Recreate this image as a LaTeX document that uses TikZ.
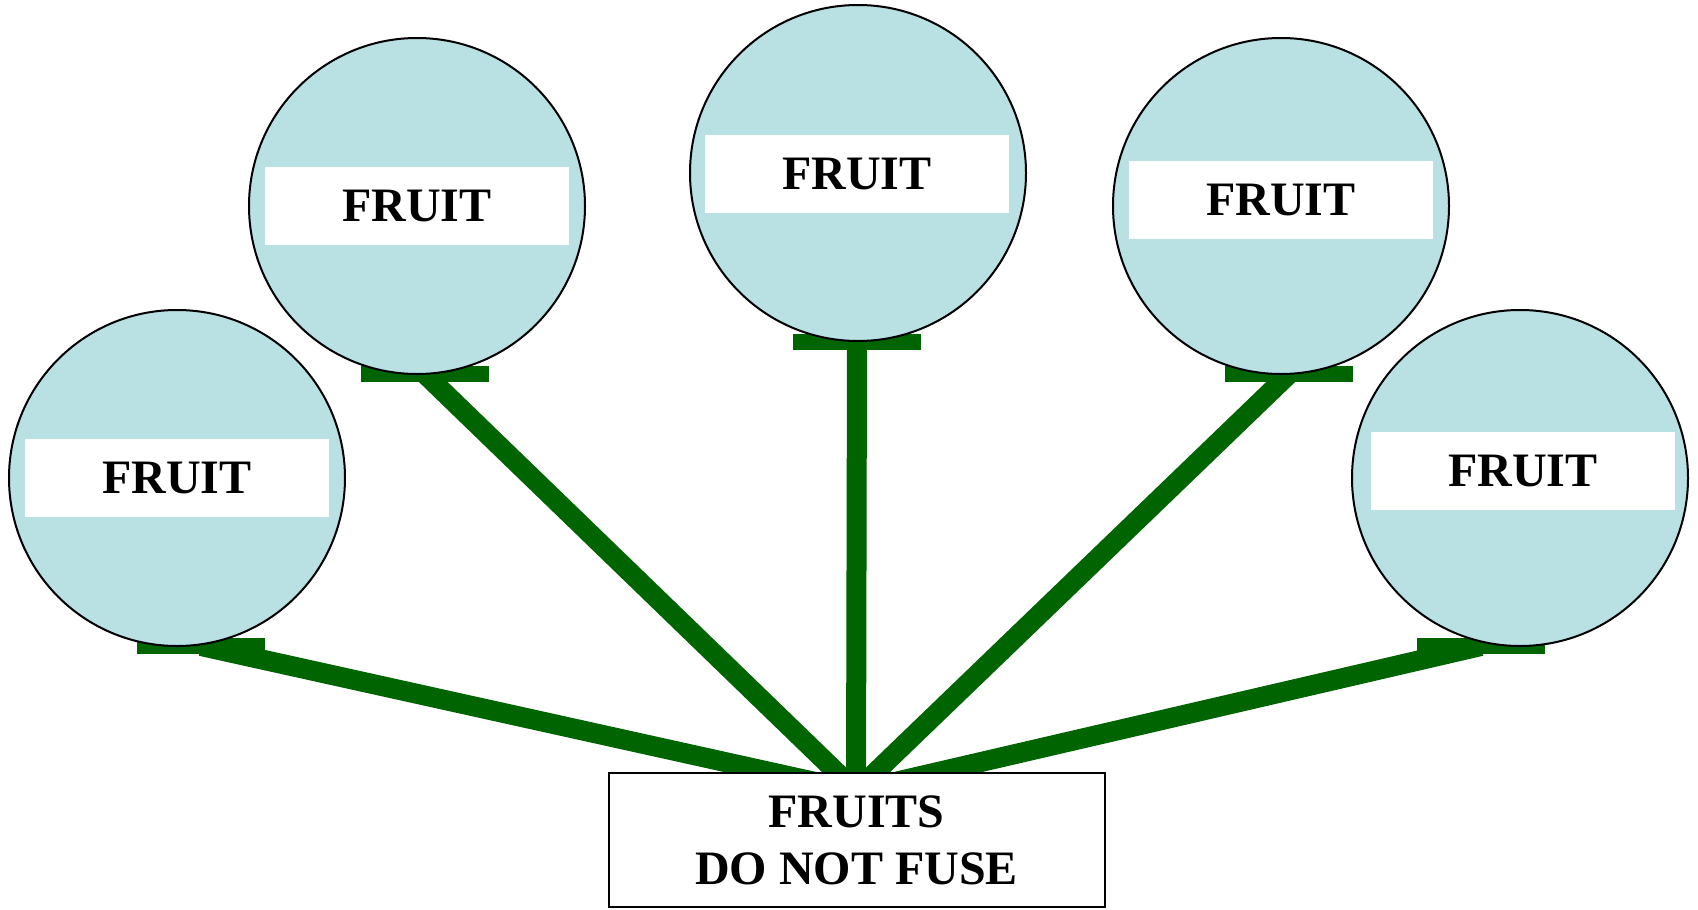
\documentclass[tikz,border=0pt]{standalone}
\usepackage{fontspec}
\setmainfont{Liberation Serif}
\usepackage{tikz}
\usetikzlibrary{backgrounds}
\definecolor{Leaf}{HTML}{006400}
\definecolor{Skin}{HTML}{B9E0E3}
\tikzset{
  fruit/.style={circle,draw=black,line width=1pt,fill=Skin,minimum size=168pt,inner sep=0pt},
  tag/.style={rectangle,fill=white,minimum width=152pt,minimum height=39pt,inner sep=0pt,font=\fontsize{24}{28.5}\selectfont\bfseries},
  bar/.style={rectangle,fill=Leaf,minimum width=64pt,minimum height=8pt,inner sep=0pt},
  stalk/.style={draw=Leaf,line width=10pt},
  base/.style={rectangle,draw=black,line width=1pt,fill=white,minimum width=248pt,minimum height=67pt,inner sep=0pt,align=center,font=\fontsize{24}{28.5}\selectfont\bfseries}
}

\begin{document}
\begin{tikzpicture}[x=0.5pt,y=-0.5pt]
  \useasboundingbox (0,0) rectangle (1698,910);
  \node[bar] (b1) at (201,646) {};
  \node[bar] (b2) at (425,374) {};
  \node[bar] (b3) at (857,342) {};
  \node[bar] (b4) at (1289,374) {};
  \node[bar] (b5) at (1481,646) {};
  \node[fruit] (c1) at (177,478) {};
  \node[fruit] (c2) at (417,206) {};
  \node[fruit] (c3) at (858,173) {};
  \node[fruit] (c4) at (1281,206) {};
  \node[fruit] (c5) at (1520,478) {};
  \node[tag] (l1) at (177,478) {FRUIT};
  \node[tag] (l2) at (417,206) {FRUIT};
  \node[tag] (l3) at (857,174) {FRUIT};
  \node[tag] (l4) at (1281,200) {FRUIT};
  \node[tag] (l5) at (1523,471) {FRUIT};
  \coordinate (fuse) at (856,791);
  \node[base] (root) at (856.6,840) {FRUITS\\DO NOT FUSE};
  \begin{scope}[on background layer]
    \draw[stalk] (b1.center)--(fuse);
    \draw[stalk] (b2.center)--(fuse);
    \draw[stalk] (b3.center)--(fuse);
    \draw[stalk] (b4.center)--(fuse);
    \draw[stalk] (b5.center)--(fuse);
  \end{scope}
\end{tikzpicture}
\end{document}
